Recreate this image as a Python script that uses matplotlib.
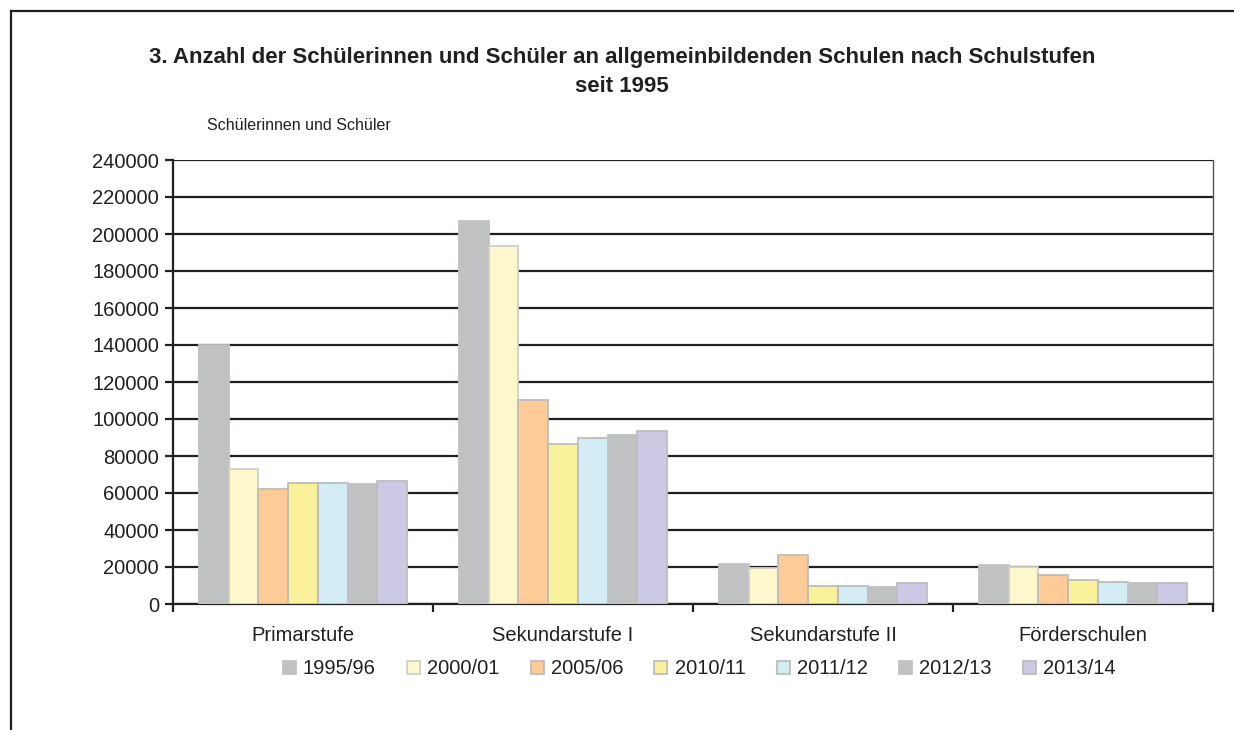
import matplotlib
matplotlib.use("Agg")
import matplotlib.pyplot as plt
import numpy as np
from matplotlib.lines import Line2D

plt.rcParams['font.family'] = ['Liberation Sans', 'DejaVu Sans']

categories = ["Primarstufe", "Sekundarstufe I", "Sekundarstufe II", "Förderschulen"]
series = ["1995/96", "2000/01", "2005/06", "2010/11", "2011/12", "2012/13", "2013/14"]
v_1995 = [140000, 207000, 21600, 20900]
v_2000 = [73100, 193700, 19500, 20200]
v_2005 = [62300, 110100, 26500, 15500]
v_2010 = [65500, 86500, 9600, 12900]
v_2011 = [65500, 89700, 9600, 12000]
v_2012 = [65000, 91200, 9100, 11300]
v_2013 = [66400, 93300, 11300, 11300]
values = [v_1995, v_2000, v_2005, v_2010, v_2011, v_2012, v_2013]
colors = ["#c0c1c2", "#fcf8cc", "#fdcb98", "#faf29a", "#d4ecf3", "#c0c1c2", "#ccc9e4"]
edges = ["#c0c1c2", "#cfcfcf", "#bdbdbd", "#bdbdbd", "#bdbdbd", "#c0c1c2", "#bdbdbd"]
yticks = list(range(0, 240001, 20000))

W, H = 1234, 730
fig = plt.figure(figsize=(W / 100, H / 100), dpi=100)
ax = fig.add_axes([173 / W, 1 - 604 / H, (1213 - 173) / W, (604 - 160) / H])

n = len(series)
gw = 0.8
bw = gw / n
x = np.arange(len(categories))
for i, (s, vals) in enumerate(zip(series, values)):
    ax.bar(x - gw / 2 + bw * (i + 0.5), vals, width=bw, color=colors[i],
           edgecolor=edges[i], linewidth=1.3, zorder=3, label=s)

ax.set_xlim(-0.5, len(categories) - 0.5)
ax.set_ylim(0, 240000)
ax.set_yticks(yticks)
ax.set_yticklabels([str(t) for t in yticks], fontsize=14.5, color="#231f20")
ax.yaxis.grid(True, color="#231f20", linewidth=1.6, zorder=0)
ax.set_axisbelow(True)
ax.set_xticks(np.arange(-0.5, len(categories), 1.0))
ax.set_xticklabels([])
ax.set_xticks(x, minor=True)
ax.set_xticklabels(categories, minor=True, fontsize=14.5, color="#231f20")
ax.tick_params(axis='x', which='minor', length=0, pad=16)
ax.tick_params(axis='x', which='major', length=6, width=1.6, color="#231f20")
ax.tick_params(axis='y', length=6, width=1.6, color="#231f20", pad=4)
for sp in ['left', 'bottom', 'right', 'top']:
    ax.spines[sp].set_color("#231f20")
    ax.spines[sp].set_linewidth(1.6)
ax.spines['top'].set_visible(False)
ax.spines['right'].set_linewidth(1.0)
ax.spines['right'].set_color("#555555")

fig.text(622 / W, 1 - 58 / H, "3. Anzahl der Schülerinnen und Schüler an allgemeinbildenden Schulen nach Schulstufen",
         ha='center', va='center', fontsize=16, fontweight='bold', color="#231f20")
fig.text(622 / W, 1 - 86 / H, "seit 1995", ha='center', va='center', fontsize=16,
         fontweight='bold', color="#231f20")
fig.text(207 / W, 1 - 126 / H, "Schülerinnen und Schüler", ha='left', va='center',
         fontsize=11.5, color="#231f20")

# frame (left and top)
fig.add_artist(Line2D([11 / W, 11 / W], [0, 1 - 11 / H], transform=fig.transFigure,
                      color="#231f20", linewidth=1.6))
fig.add_artist(Line2D([11 / W, 1], [1 - 11 / H, 1 - 11 / H], transform=fig.transFigure,
                      color="#231f20", linewidth=1.6))

leg = fig.legend(loc='center', bbox_to_anchor=(699 / W, 1 - 669 / H), ncol=7, frameon=False,
                 fontsize=14.5, handlelength=0.65, handleheight=0.65, handletextpad=0.35,
                 columnspacing=1.55)
for t in leg.get_texts():
    t.set_color("#231f20")

fig.savefig("out.png", dpi=100)
